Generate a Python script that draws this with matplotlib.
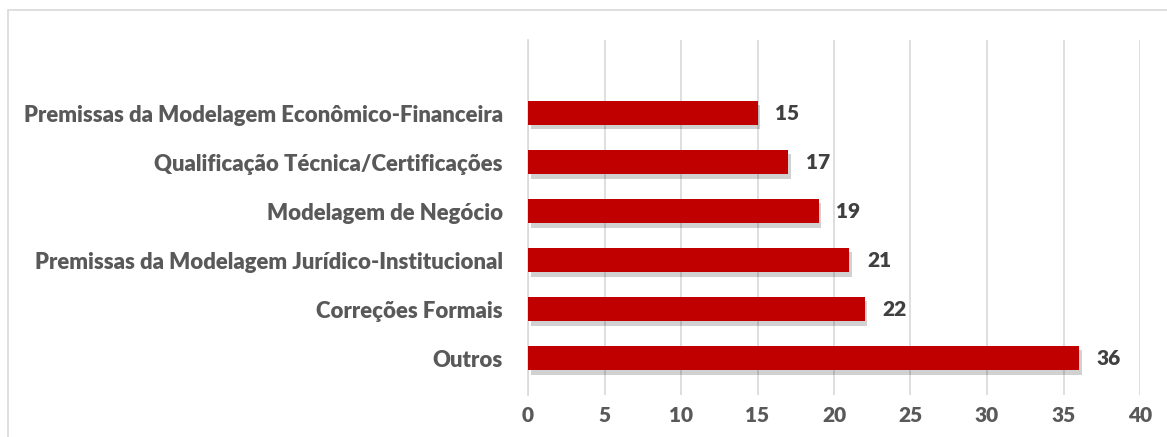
import matplotlib.pyplot as plt
import matplotlib.patheffects as pe
from matplotlib.patches import Rectangle

# Data (top to bottom as shown)
categories = [
    "Premissas da Modelagem Econômico-Financeira",
    "Qualificação Técnica/Certificações",
    "Modelagem de Negócio",
    "Premissas da Modelagem Jurídico-Institucional",
    "Correções Formais",
    "Outros",
]
values = [15, 17, 19, 21, 22, 36]
x_ticks = [0, 5, 10, 15, 20, 25, 30, 35, 40]

bar_color = "#C00000"
text_color = "#595959"
value_color = "#404040"
grid_color = "#D9D9D9"

plt.rcParams["font.family"] = ["Lato", "DejaVu Sans"]
weight = "heavy"

W, H = 1167, 437
fig = plt.figure(figsize=(W / 100, H / 100), dpi=100)
ax = fig.add_axes([528 / W, 1 - 395 / H, (1140 - 528) / W, (395 - 40) / H])

# figure border (cropped on right/bottom)
fig.patches.append(Rectangle((8 / W, -0.1), 1.2, 1 - 10 / H + 0.1,
                             transform=fig.transFigure, fill=False,
                             edgecolor="#D9D9D9", linewidth=1.2))

ypos = list(range(len(categories)))[::-1]
bars = ax.barh(ypos, values, height=0.5, color=bar_color, zorder=3)
for b in bars:
    b.set_path_effects([pe.SimplePatchShadow(offset=(2, -3), shadow_rgbFace="#000000", alpha=0.18),
                        pe.Normal()])

for y, v in zip(ypos, values):
    ax.text(v + 1.15, y, str(v), va="center", ha="left", fontsize=15,
            fontweight=weight, color=value_color)

ax.set_xlim(0, 40)
ax.set_ylim(-0.75, 6.49)
ax.set_xticks(x_ticks)
ax.set_yticks(ypos)
ax.set_yticklabels(categories, fontsize=15.9, fontweight=weight, color=text_color)
for lbl in ax.get_xticklabels():
    lbl.set_fontsize(15)
    lbl.set_fontweight(weight)
    lbl.set_color(text_color)

ax.grid(axis="x", color=grid_color, linewidth=1.2, zorder=0)
ax.tick_params(axis="both", length=0)
ax.tick_params(axis="y", pad=18)
ax.tick_params(axis="x", pad=8)
for s in ["top", "right", "bottom"]:
    ax.spines[s].set_visible(False)
ax.spines["left"].set_color(grid_color)
ax.spines["left"].set_linewidth(1.2)

fig.savefig("out.png", dpi=100)
